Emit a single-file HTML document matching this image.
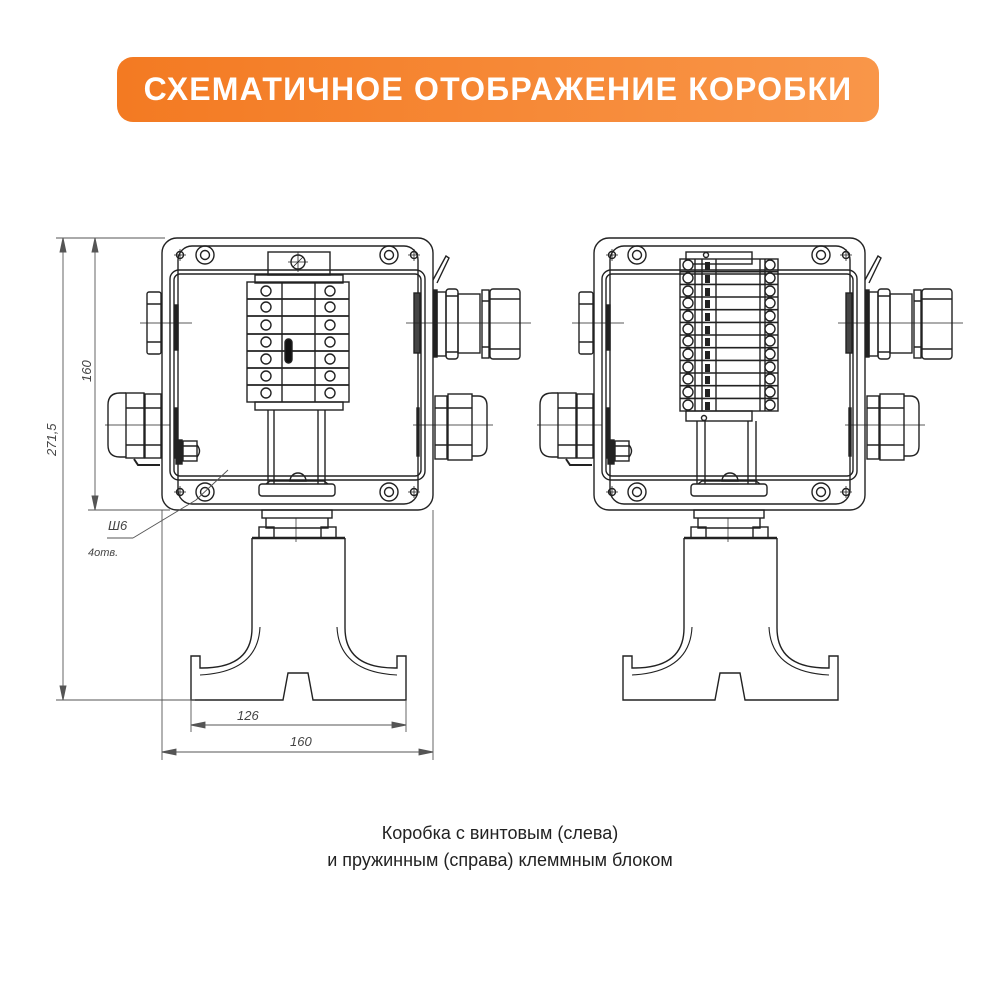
<!DOCTYPE html>
<html><head><meta charset="utf-8"><style>
html,body{margin:0;padding:0;background:#fff;width:1000px;height:1000px;overflow:hidden}
.pill{position:absolute;left:117px;top:57px;width:762px;height:65px;border-radius:16px;background:linear-gradient(90deg,#f37a22,#f99649);color:#fff;font:bold 32px "Liberation Sans","DejaVu Sans",sans-serif;text-align:center;line-height:65px;letter-spacing:1.2px}
.cap{position:absolute;left:0;top:820px;width:1000px;text-align:center;font:18px/27px "Liberation Sans","DejaVu Sans",sans-serif;color:#222}
svg{position:absolute;left:0;top:0}
</style></head><body>
<div class="pill">СХЕМАТИЧНОЕ ОТОБРАЖЕНИЕ КОРОБКИ</div>
<svg width="1000" height="1000" viewBox="0 0 1000 1000" fill="none" stroke="#222" stroke-width="1.4" font-family="Liberation Sans, sans-serif">
<defs>
<g id="box">
 <rect x="162" y="238" width="271" height="272" rx="15"/>
 <rect x="178" y="246" width="240" height="258" rx="14"/>
 <rect x="170" y="270" width="255" height="210" rx="9"/>
 <rect x="174" y="274" width="247" height="202" rx="6"/>
 <g>
  <circle cx="205" cy="255" r="9"/><circle cx="205" cy="255" r="4.5"/>
  <circle cx="389" cy="255" r="9"/><circle cx="389" cy="255" r="4.5"/>
  <circle cx="205" cy="492" r="9"/><circle cx="205" cy="492" r="4.5"/>
  <circle cx="389" cy="492" r="9"/><circle cx="389" cy="492" r="4.5"/>
  <circle cx="180" cy="255" r="3.5"/><circle cx="414" cy="255" r="3.5"/>
  <circle cx="180" cy="492" r="3.5"/><circle cx="414" cy="492" r="3.5"/>
  <path d="M174,255h12M408,255h12M174,492h12M408,492h12M180,249v12M414,249v12M180,486v12M414,486v12" stroke-width="0.8"/>
 </g>
 <rect x="147" y="292" width="14" height="62" rx="2"/>
 <path d="M147,304h14M147,342h14"/>
 <rect x="175" y="305" width="3" height="45" fill="#222"/>
 <path d="M140,323h52" stroke-width="0.7"/>
 <path d="M126,393 h-6 q-12,0 -12,12 v40 q0,12 12,12 h6"/>
 <rect x="126" y="393" width="18" height="65"/>
 <rect x="145" y="394" width="16" height="64"/>
 <path d="M126,408h35M126,445h35"/>
 <path d="M134,459 l4,6 h22" stroke-width="2"/>
 <rect x="175" y="408" width="2" height="50" fill="#222"/>
 <path d="M105,425h65" stroke-width="0.7"/>
 <rect x="176" y="440" width="6" height="24" fill="#222"/>
 <rect x="183" y="441" width="14" height="20"/>
 <path d="M183,446h14M183,456h14M197,445q5,6 0,12"/>
 <rect x="414" y="293" width="6" height="60" fill="#444"/>
 <path d="M433,280 L446,256 L449,258 L437,283"/>
 <rect x="434" y="290" width="3" height="67" fill="#222"/>
 <rect x="437" y="292" width="9" height="64"/>
 <rect x="446" y="289" width="12" height="70" rx="3"/>
 <path d="M446,296h12M446,352h12"/>
 <rect x="458" y="294" width="22" height="59"/>
 <rect x="482" y="290" width="7" height="68"/>
 <rect x="490" y="289" width="30" height="70" rx="3"/>
 <path d="M490,299h30M490,349h30M482,301h8M482,347h8"/>
 <path d="M406,323h125" stroke-width="0.7"/>
 <rect x="417" y="408" width="2" height="48" fill="#222"/>
 <rect x="435" y="396" width="12" height="63"/>
 <rect x="448" y="394" width="24" height="66"/>
 <path d="M472,396h6q9,0 9,10v40q0,10 -9,10h-6"/>
 <path d="M435,408h37M435,445h37"/>
 <path d="M413,425h80" stroke-width="0.7"/>
 <rect x="259" y="484" width="76" height="12" rx="3"/>
 <path d="M266,484 l4,-3 h54 l4,3" />
 <rect x="262" y="510" width="70" height="8"/>
 <path d="M266,518 v10 h62 v-10"/>
 <rect x="259" y="527" width="15" height="11"/>
 <rect x="321" y="527" width="15" height="11"/>
 <path d="M252,538 H345" stroke-width="2.4"/>
 <path d="M252,538 V628 Q252,668 202,668 H200 V656 H191 V700 H283 L288,673 H308 L313,700 H406 V656 H397 V668 H395 Q345,668 345,628 V538"/>
 <path d="M260,627 Q258,672 200,675 M337,627 Q339,672 397,675" stroke-width="1.1"/>
 <path d="M296,518v24" stroke-width="0.7"/>
</g>
</defs>
<use href="#box"/>
<use href="#box" transform="translate(432,0)"/>

<g>
 <rect x="268" y="252" width="62" height="23"/>
 <circle cx="298" cy="262" r="7"/><path d="M293,267l10,-10M288,262h20M298,252v20" stroke-width="0.8"/>
 <rect x="255" y="275" width="88" height="8"/>
 <rect x="247" y="282" width="102" height="120"/>
 <path d="M247,299h102M247,316h102M247,334h102M247,351h102M247,368h102M247,385h102" stroke-width="1.8"/>
 <path d="M282,282v120M315,282v120"/>
 <g>
  <circle cx="266" cy="291" r="5"/><circle cx="330" cy="291" r="5"/>
  <circle cx="266" cy="307" r="5"/><circle cx="330" cy="307" r="5"/>
  <circle cx="266" cy="325" r="5"/><circle cx="330" cy="325" r="5"/>
  <circle cx="266" cy="342" r="5"/><circle cx="330" cy="342" r="5"/>
  <circle cx="266" cy="359" r="5"/><circle cx="330" cy="359" r="5"/>
  <circle cx="266" cy="376" r="5"/><circle cx="330" cy="376" r="5"/>
  <circle cx="266" cy="393" r="5"/><circle cx="330" cy="393" r="5"/>
 </g>
 <rect x="285" y="339" width="7" height="24" rx="3.5" fill="#111"/>
 <rect x="255" y="402" width="88" height="8"/>
 <path d="M268,410V484M274,410V484M318,410V484M325,410V484"/>
 <path d="M290,481a8,8 0 0 1 16,0z"/>
</g>

<g>
 <rect x="686" y="252" width="66" height="12"/>
 <circle cx="706" cy="255" r="2.5"/>
 <rect x="680" y="259" width="98" height="152"/>
 <path d="M680,271.7h98M680,284.4h98M680,297h98M680,309.7h98M680,322.4h98M680,335h98M680,347.7h98M680,360.4h98M680,373h98M680,385.7h98M680,398.4h98" stroke-width="1.6"/>
 <path d="M695,259v152M702,259v152M716,259v152M760,259v152M765,259v152"/>
 <g fill="#fff">
  <circle cx="688" cy="265" r="5"/><circle cx="770" cy="265" r="5"/>
  <circle cx="688" cy="278" r="5"/><circle cx="770" cy="278" r="5"/>
  <circle cx="688" cy="291" r="5"/><circle cx="770" cy="291" r="5"/>
  <circle cx="688" cy="303" r="5"/><circle cx="770" cy="303" r="5"/>
  <circle cx="688" cy="316" r="5"/><circle cx="770" cy="316" r="5"/>
  <circle cx="688" cy="329" r="5"/><circle cx="770" cy="329" r="5"/>
  <circle cx="688" cy="341" r="5"/><circle cx="770" cy="341" r="5"/>
  <circle cx="688" cy="354" r="5"/><circle cx="770" cy="354" r="5"/>
  <circle cx="688" cy="367" r="5"/><circle cx="770" cy="367" r="5"/>
  <circle cx="688" cy="379" r="5"/><circle cx="770" cy="379" r="5"/>
  <circle cx="688" cy="392" r="5"/><circle cx="770" cy="392" r="5"/>
  <circle cx="688" cy="405" r="5"/><circle cx="770" cy="405" r="5"/>
 </g>
 <g fill="#222" stroke="none">
  <rect x="705" y="262" width="5" height="8"/><rect x="705" y="275" width="5" height="8"/><rect x="705" y="288" width="5" height="8"/><rect x="705" y="300" width="5" height="8"/><rect x="705" y="313" width="5" height="8"/><rect x="705" y="326" width="5" height="8"/><rect x="705" y="338" width="5" height="8"/><rect x="705" y="351" width="5" height="8"/><rect x="705" y="364" width="5" height="8"/><rect x="705" y="376" width="5" height="8"/><rect x="705" y="389" width="5" height="8"/><rect x="705" y="402" width="5" height="8"/>
 </g>
 <rect x="686" y="411" width="66" height="10"/>
 <circle cx="704" cy="418" r="2.5"/>
 <path d="M697,421V484M705,421V484M748,421V484M756,421V484"/>
 <path d="M722,481a8,8 0 0 1 16,0z"/>
</g>

<g stroke="#555" stroke-width="0.9">
 <path d="M56,238H165M88,510H170M56,700H195"/>
 <path d="M63,238V700M95,238V510"/>
 <path d="M63,238l-3,14h6zM63,700l-3,-14h6zM95,238l-3,14h6zM95,510l-3,-14h6z" fill="#555"/>
 <path d="M191,700V732M406,700V732M162,510V760M433,510V760"/>
 <path d="M191,725H406M162,752H433"/>
 <path d="M191,725l14,-3v6zM406,725l-14,-3v6zM162,752l14,-3v6zM433,752l-14,-3v6z" fill="#555"/>
 <path d="M133,538L196,500M228,470L196,500M107,538H133"/>
</g>
<g fill="#444" stroke="none" font-style="italic" font-size="13">
 <text x="237" y="720">126</text>
 <text x="290" y="746">160</text>
 <text x="108" y="530">Ш6</text>
 <text x="88" y="556" font-size="11">4отв.</text>
 <text transform="translate(91,382) rotate(-90)">160</text>
 <text transform="translate(56,456) rotate(-90)">271,5</text>
</g>
</svg>
<div class="cap">Коробка с винтовым (слева)<br>и пружинным (справа) клеммным блоком</div>
</body></html>
